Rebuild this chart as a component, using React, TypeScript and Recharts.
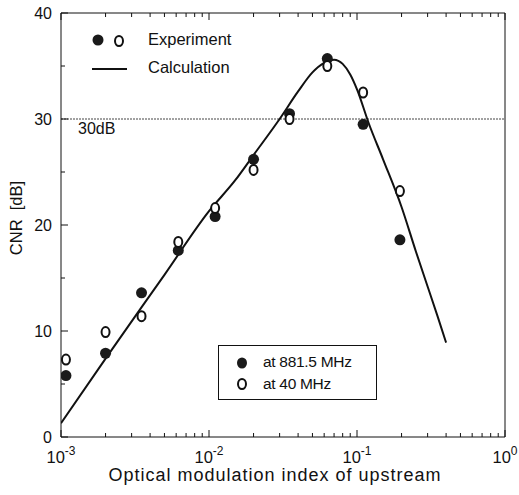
import { ComposedChart, Line, Scatter, XAxis, YAxis, ReferenceLine } from 'recharts'

const POINT_X = [0.00108, 0.002, 0.0035, 0.0062, 0.011, 0.02, 0.035, 0.063, 0.11, 0.195]
const CNR_881 = [5.8, 7.9, 13.6, 17.6, 20.8, 26.2, 30.5, 35.7, 29.5, 18.6]
const CNR_40 = [7.3, 9.9, 11.4, 18.4, 21.6, 25.2, 30.0, 35.0, 32.5, 23.2]

// calculated curve
const CALC_X = [0.001, 0.002, 0.005, 0.01, 0.015, 0.02, 0.03, 0.04, 0.05, 0.06, 0.07, 0.08, 0.09, 0.1, 0.12, 0.15, 0.2, 0.25, 0.3, 0.35, 0.4]
const CALC_CNR = [1.3, 7.4, 15.3, 21.3, 24.2, 26.6, 30.0, 32.6, 34.4, 35.3, 35.6, 35.2, 34.2, 32.8, 29.6, 26.2, 21.7, 17.5, 14.2, 11.4, 8.9]

const DECADES = [0.001, 0.01, 0.1, 1]
const DECADE_EXP = ['-3', '-2', '-1', '0']
const MINOR_MULT = [2, 3, 4, 5, 6, 7, 8, 9]
const Y_MAJOR = [0, 10, 20, 30, 40]
const Y_MINOR = [5, 15, 25, 35]

const X_TICKS = [...DECADES, ...DECADES.slice(0, 3).flatMap((d) => MINOR_MULT.map((m) => +(d * m).toPrecision(3)))]
const Y_TICKS = [...Y_MAJOR, ...Y_MINOR]

const filled = POINT_X.map((x, i) => ({ x, cnr: CNR_881[i] }))
const open = POINT_X.map((x, i) => ({ x, cnr: CNR_40[i] }))
const calc = CALC_X.map((x, i) => ({ x, cnr: CALC_CNR[i] }))

const INK = '#111'
const FONT = '"Liberation Sans", Arial, sans-serif'

function FilledDot(p: any) {
  return <circle cx={p.cx} cy={p.cy} r={5.5} fill="#1a1a1a" />
}

function OpenDot(p: any) {
  return <ellipse cx={p.cx} cy={p.cy} rx={4} ry={5} fill="#fff" stroke={INK} strokeWidth={2} />
}

function isMajorX(v: number) {
  return DECADES.includes(v)
}

function BottomTick(p: any) {
  const v = p.payload.value
  const major = isMajorX(v)
  const idx = DECADES.indexOf(v)
  return (
    <g>
      <line x1={p.x} x2={p.x} y1={p.y} y2={p.y - (major ? 7 : 4)} stroke={INK} />
      {major && (
        <text x={p.x} y={p.y + 26} textAnchor="middle" fontSize={16.5} fill={INK} fontFamily={FONT}>
          10<tspan dy={-8} fontSize={12}>{DECADE_EXP[idx]}</tspan>
        </text>
      )}
    </g>
  )
}

function TopTick(p: any) {
  const major = isMajorX(p.payload.value)
  return <line x1={p.x} x2={p.x} y1={p.y} y2={p.y + (major ? 7 : 4)} stroke={INK} />
}

function LeftTick(p: any) {
  const v = p.payload.value
  const major = Y_MAJOR.includes(v)
  return (
    <g>
      <line x1={p.x} x2={p.x + (major ? 7 : 4)} y1={p.y} y2={p.y} stroke={INK} />
      {major && (
        <text x={p.x - 9} y={p.y + 6} textAnchor="end" fontSize={16} fill={INK} fontFamily={FONT}>
          {v}
        </text>
      )}
    </g>
  )
}

function RightTick(p: any) {
  const major = Y_MAJOR.includes(p.payload.value)
  return <line x1={p.x} x2={p.x - (major ? 7 : 4)} y1={p.y} y2={p.y} stroke={INK} />
}

export default function App() {
  return (
    <div style={{ position: 'absolute', left: 0, top: 0, width: 519, height: 495, background: '#fff', fontFamily: FONT, color: INK }}>
      <ComposedChart width={519} height={495} margin={{ top: 12, right: 13, bottom: 28, left: 21 }}>
        <XAxis
          dataKey="x"
          type="number"
          scale="log"
          domain={[0.001, 1]}
          allowDataOverflow
          ticks={X_TICKS}
          interval={0}
          height={30}
          tickSize={0}
          tickMargin={0}
          tickLine={false}
          tick={<BottomTick />}
          stroke={INK}
        />
        <XAxis
          xAxisId="top"
          orientation="top"
          dataKey="x"
          type="number"
          scale="log"
          domain={[0.001, 1]}
          allowDataOverflow
          ticks={X_TICKS}
          interval={0}
          height={1}
          tickSize={0}
          tickMargin={0}
          tickLine={false}
          tick={<TopTick />}
          stroke={INK}
        />
        <YAxis
          type="number"
          domain={[0, 40]}
          ticks={Y_TICKS}
          interval={0}
          width={40}
          tickSize={0}
          tickMargin={0}
          tickLine={false}
          tick={<LeftTick />}
          stroke={INK}
        />
        <YAxis
          yAxisId="right"
          orientation="right"
          type="number"
          domain={[0, 40]}
          ticks={Y_TICKS}
          interval={0}
          width={1}
          tickSize={0}
          tickMargin={0}
          tickLine={false}
          tick={<RightTick />}
          stroke={INK}
        />
        <ReferenceLine y={30} stroke="#444" strokeWidth={1} strokeDasharray="2 1" />
        <Line data={calc} dataKey="cnr" type="monotone" stroke={INK} strokeWidth={2} dot={false} isAnimationActive={false} />
        <Scatter data={filled} dataKey="cnr" shape={<FilledDot />} isAnimationActive={false} />
        <Scatter data={open} dataKey="cnr" shape={<OpenDot />} isAnimationActive={false} />
      </ComposedChart>

      {/* axis titles */}
      <div
        style={{
          position: 'absolute',
          left: 0,
          width: 550,
          top: 466,
          textAlign: 'center',
          fontSize: 18,
          lineHeight: '18px',
          letterSpacing: 1,
          whiteSpace: 'nowrap',
        }}
      >
        Optical modulation index of upstream
      </div>
      <div
        style={{
          position: 'absolute',
          left: 16,
          top: 218,
          transform: 'translate(-50%, -50%) rotate(-90deg)',
          fontSize: 16.5,
          whiteSpace: 'nowrap',
        }}
      >
        CNR&nbsp;&nbsp;[dB]
      </div>

      <div style={{ position: 'absolute', left: 78, top: 120, fontSize: 16 }}>30dB</div>

      {/* top-left legend */}
      <svg style={{ position: 'absolute', left: 0, top: 0 }} width={140} height={80}>
        <circle cx={98} cy={40} r={5.5} fill="#1a1a1a" />
        <ellipse cx={119} cy={41} rx={4} ry={5} fill="#fff" stroke={INK} strokeWidth={2} />
        <line x1={92} x2={127} y1={69} y2={69} stroke={INK} strokeWidth={2} />
      </svg>
      <div style={{ position: 'absolute', left: 148, top: 30, fontSize: 16.5 }}>Experiment</div>
      <div style={{ position: 'absolute', left: 148, top: 58, fontSize: 16.5 }}>Calculation</div>

      {/* boxed legend */}
      <div style={{ position: 'absolute', left: 218, top: 345, width: 157, height: 53, border: `1px solid ${INK}`, background: '#fff' }}>
        <svg style={{ position: 'absolute', left: 0, top: 0 }} width={40} height={53}>
          <ellipse cx={23} cy={17} rx={5} ry={5.5} fill="#1a1a1a" />
          <ellipse cx={23} cy={38} rx={4} ry={5} fill="#fff" stroke={INK} strokeWidth={2} />
        </svg>
        <div style={{ position: 'absolute', left: 44, top: 7, fontSize: 15.5, letterSpacing: -0.3, whiteSpace: 'nowrap' }}>at 881.5 MHz</div>
        <div style={{ position: 'absolute', left: 44, top: 29, fontSize: 15.5, letterSpacing: -0.3, whiteSpace: 'nowrap' }}>at 40 MHz</div>
      </div>
    </div>
  )
}
